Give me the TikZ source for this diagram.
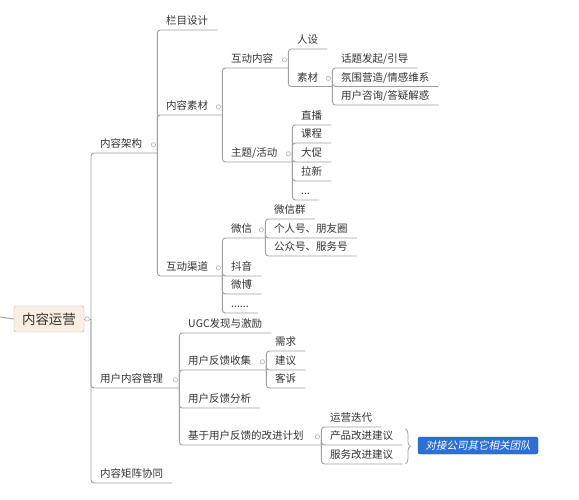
\documentclass[tikz,border=0pt]{standalone}
\usepackage{fontspec}
\setmainfont{Noto Sans CJK SC}
\newfontfamily\slantfont[FakeSlant=0.2]{Noto Sans CJK SC}
\usepackage{tikz}
\usetikzlibrary{decorations.pathreplacing}
\definecolor{ink}{HTML}{333333}
\definecolor{wire}{HTML}{A0A0A0}
\definecolor{knobline}{HTML}{B4B4B4}
\definecolor{rootfill}{HTML}{FAEFE3}
\definecolor{rootline}{HTML}{C2B19E}
\definecolor{notefill}{HTML}{2F6FD4}
\definecolor{noteline}{HTML}{1F5AB8}

\begin{document}
\begin{tikzpicture}[x=1pt,y=-1pt,font=\fontsize{10.5}{12}\selectfont]
	\tikzstyle{every node}=[text=ink]
	\tikzstyle{topic}=[anchor=south west,inner xsep=9pt,inner ysep=3pt,text height=8pt,text depth=2pt]
	\tikzstyle{link}=[draw=wire,line width=0.9pt,rounded corners=3pt]
	\tikzstyle{knob}=[draw=knobline,fill=white,line width=0.6pt]
	\tikzstyle{bracket}=[draw=wire,line width=0.8pt,decorate,decoration={brace,amplitude=5pt}]
	\useasboundingbox (0,0) rectangle (579,500);

	\node (ROOT) [draw=rootline,fill=rootfill,rounded corners=2pt,minimum width=70pt,minimum height=26pt,inner sep=0pt,font=\fontsize{13.5}{15}\selectfont] at (49,319) {内容运营};

	\node (T1) [topic,text width=48pt] at (91,153) {内容架构};
	\node (T1_1) [topic] at (157,30) {栏目设计};
	\node (T1_2) [topic,text width=47pt] at (157,115) {内容素材};
	\node (T1_2_1) [topic,text width=48pt] at (222,68) {互动内容};
	\node (T1_2_1_1) [topic] at (288,49) {人设};
	\node (T1_2_1_2) [topic,text width=26pt] at (288,86.5) {素材};
	\node (T1_2_1_2_1) [topic] at (332,68) {话题发起/引导};
	\node (T1_2_1_2_2) [topic] at (332,86.5) {氛围营造/情感维系};
	\node (T1_2_1_2_3) [topic] at (332,105) {用户咨询/答疑解惑};
	\node (T1_2_2) [topic,text width=52pt] at (222,162) {主题/活动};
	\node (T1_2_2_1) [topic] at (292,125) {直播};
	\node (T1_2_2_2) [topic] at (292,143) {课程};
	\node (T1_2_2_3) [topic] at (292,162) {大促};
	\node (T1_2_2_4) [topic] at (292,181) {拉新};
	\node (T1_2_2_5) [topic] at (292,200) {...};
	\node (T1_3) [topic,text width=47pt] at (157,276) {互动渠道};
	\node (T1_3_1) [topic,text width=25pt] at (222,238) {微信};
	\node (T1_3_1_1) [topic] at (265,219) {微信群};
	\node (T1_3_1_2) [topic] at (265,238) {个人号、朋友圈};
	\node (T1_3_1_3) [topic] at (265,256) {公众号、服务号};
	\node (T1_3_2) [topic] at (222,276) {抖音};
	\node (T1_3_3) [topic] at (222,294) {微博};
	\node (T1_3_4) [topic] at (222,313) {......};

	\node (T2) [topic,text width=70pt] at (91,388) {用户内容管理};
	\node (T2_1) [topic] at (179,333) {UGC发现与激励};
	\node (T2_2) [topic,text width=69pt] at (179,370) {用户反馈收集};
	\node (T2_2_1) [topic] at (266,351) {需求};
	\node (T2_2_2) [topic] at (266,370) {建议};
	\node (T2_2_3) [topic] at (266,388) {客诉};
	\node (T2_3) [topic] at (179,408) {用户反馈分析};
	\node (T2_4) [topic,text width=124pt] at (179,445) {基于用户反馈的改进计划};
	\node (T2_4_1) [topic] at (321,427) {运营迭代};
	\node (T2_4_2) [topic] at (321,445) {产品改进建议};
	\node (T2_4_3) [topic] at (321,464) {服务改进建议};

	\node (T3) [topic] at (91,483) {内容矩阵协同};

	\node (NOTE) [fill=notefill,draw=noteline,rounded corners=2pt,minimum width=120pt,minimum height=17pt,inner sep=0pt,text=white,font=\slantfont\fontsize{10.5}{12}\selectfont] at (478,445.5) {对接公司其它相关团队};

	% root
	\coordinate (STUB) at (0,317);
	\coordinate (ROOTJ) at (ROOT.east -| T1.south west);
	\draw[link] (STUB) -- (ROOT.west);
	\draw[link] (ROOT.east) -- (ROOTJ);
	\draw[link] (ROOTJ) |- (T1.south east);
	\draw[link] (ROOTJ) |- (T2.south east);
	\draw[link] (ROOTJ) |- (T3.south east);

	\draw[link] (T1.south east) |- (T1_1.south east);
	\draw[link] (T1.south east) |- (T1_2.south east);
	\draw[link] (T1.south east) |- (T1_3.south east);

	\draw[link] (T1_2.south east) |- (T1_2_1.south east);
	\draw[link] (T1_2.south east) |- (T1_2_2.south east);

	\draw[link] (T1_2_1.south east) |- (T1_2_1_1.south east);
	\draw[link] (T1_2_1.south east) |- (T1_2_1_2.south east);

	\draw[link] (T1_2_1_2.south east) |- (T1_2_1_2_1.south east);
	\draw[link] (T1_2_1_2.south east) |- (T1_2_1_2_2.south east);
	\draw[link] (T1_2_1_2.south east) |- (T1_2_1_2_3.south east);

	\draw[link] (T1_2_2.south east) |- (T1_2_2_1.south east);
	\draw[link] (T1_2_2.south east) |- (T1_2_2_2.south east);
	\draw[link] (T1_2_2.south east) |- (T1_2_2_3.south east);
	\draw[link] (T1_2_2.south east) |- (T1_2_2_4.south east);
	\draw[link] (T1_2_2.south east) |- (T1_2_2_5.south east);

	\draw[link] (T1_3.south east) |- (T1_3_1.south east);
	\draw[link] (T1_3.south east) |- (T1_3_2.south east);
	\draw[link] (T1_3.south east) |- (T1_3_3.south east);
	\draw[link] (T1_3.south east) |- (T1_3_4.south east);

	\draw[link] (T1_3_1.south east) |- (T1_3_1_1.south east);
	\draw[link] (T1_3_1.south east) |- (T1_3_1_2.south east);
	\draw[link] (T1_3_1.south east) |- (T1_3_1_3.south east);

	\draw[link] (T2.south east) |- (T2_1.south east);
	\draw[link] (T2.south east) |- (T2_2.south east);
	\draw[link] (T2.south east) |- (T2_3.south east);
	\draw[link] (T2.south east) |- (T2_4.south east);

	\draw[link] (T2_2.south east) |- (T2_2_1.south east);
	\draw[link] (T2_2.south east) |- (T2_2_2.south east);
	\draw[link] (T2_2.south east) |- (T2_2_3.south east);

	\draw[link] (T2_4.south east) |- (T2_4_1.south east);
	\draw[link] (T2_4.south east) |- (T2_4_2.south east);
	\draw[link] (T2_4.south east) |- (T2_4_3.south east);

	\draw[bracket] ([xshift=3pt]T2_4_2.north east) -- ([xshift=3pt]T2_4_3.south east);

	% collapse knobs
	\draw[knob] ([xshift=3pt]ROOT.east) circle (2.2pt);
	\draw[knob] ([xshift=-4pt]T1.east) circle (2.2pt);
	\draw[knob] ([xshift=-4pt]T1_2.east) circle (2.2pt);
	\draw[knob] ([xshift=-4pt]T1_2_1.east) circle (2.2pt);
	\draw[knob] ([xshift=-4pt]T1_2_1_2.east) circle (2.2pt);
	\draw[knob] ([xshift=-4pt]T1_2_2.east) circle (2.2pt);
	\draw[knob] ([xshift=-4pt]T1_3.east) circle (2.2pt);
	\draw[knob] ([xshift=-4pt]T1_3_1.east) circle (2.2pt);
	\draw[knob] ([xshift=-4pt]T2.east) circle (2.2pt);
	\draw[knob] ([xshift=-4pt]T2_2.east) circle (2.2pt);
	\draw[knob] ([xshift=-4pt]T2_4.east) circle (2.2pt);
\end{tikzpicture}
\end{document}
